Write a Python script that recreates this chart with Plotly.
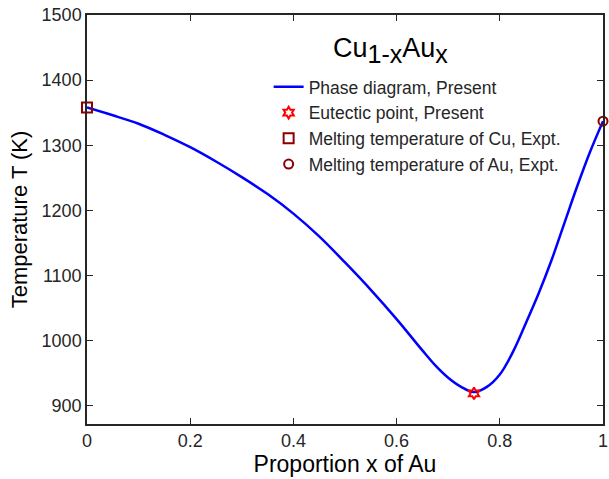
import plotly.graph_objects as go

# Phase diagram curve
x_curve = [0.0, 0.05, 0.10, 0.15, 0.20, 0.25, 0.30, 0.35, 0.40, 0.45, 0.50, 0.55,
           0.60, 0.65, 0.675, 0.70, 0.725, 0.75, 0.775, 0.80, 0.825, 0.85,
           0.875, 0.90, 0.925, 0.95, 0.975, 1.0]
t_curve = [1358, 1346, 1333, 1316, 1297, 1275, 1251, 1225, 1195, 1160, 1120, 1078,
           1033, 985, 962, 943, 929, 921, 929, 948, 982, 1026,
           1072, 1123, 1180, 1237, 1290, 1337]

eut_x = [0.75]
eut_t = [919]
cu_x = [0.0]
cu_t = [1358]
au_x = [1.0]
au_t = [1337]

x_ticks = [0, 0.2, 0.4, 0.6, 0.8, 1]
x_labels = ["0", "0.2", "0.4", "0.6", "0.8", "1"]
y_ticks = [900, 1000, 1100, 1200, 1300, 1400, 1500]

FONT = "Arial, Liberation Sans, Helvetica, sans-serif"
AX = "#262626"
DR = "#8B0000"

fig = go.Figure()
fig.add_trace(go.Scatter(x=x_curve, y=t_curve, mode="lines",
                         line=dict(color="#0000FF", width=2.5, shape="spline", smoothing=1.0),
                         name="Phase diagram, Present", cliponaxis=False))
fig.add_trace(go.Scatter(x=eut_x, y=eut_t, mode="markers",
                         marker=dict(symbol="hexagram-open", size=9, color="#FF0000", line=dict(width=2, color="#FF0000")),
                         name="Eutectic point, Present", cliponaxis=False))
fig.add_trace(go.Scatter(x=cu_x, y=cu_t, mode="markers",
                         marker=dict(symbol="square-open", size=10, color=DR, line=dict(width=2, color=DR)),
                         name="Melting temperature of Cu, Expt.", cliponaxis=False))
fig.add_trace(go.Scatter(x=au_x, y=au_t, mode="markers",
                         marker=dict(symbol="circle-open", size=9, color=DR, line=dict(width=2, color=DR)),
                         name="Melting temperature of Au, Expt.", cliponaxis=False))

fig.add_annotation(
    text="Cu<sub><span style='font-size:25px'>1-x</span></sub>Au<sub><span style='font-size:25px'>x</span></sub>",
    xref="paper", yref="paper", x=0.588, y=0.96, xanchor="center", yanchor="top",
    showarrow=False, font=dict(family=FONT, size=27, color="#000000"))

axis_common = dict(showline=True, linecolor=AX, linewidth=1.5, mirror="ticks", ticks="inside",
                   ticklen=6, tickcolor=AX, tickwidth=1.2, showgrid=False, zeroline=False,
                   ticklabeloverflow="allow",
                   tickfont=dict(family=FONT, size=18, color=AX))

fig.update_xaxes(range=[0, 1], tickvals=x_ticks, ticktext=x_labels,
                 title=dict(text="Proportion x of Au", font=dict(family=FONT, size=23, color="#000000"), standoff=6),
                 **axis_common)
fig.update_yaxes(range=[872, 1500], tickvals=y_ticks,
                 title=dict(text="Temperature T (K)", font=dict(family=FONT, size=22, color="#000000"), standoff=8),
                 **axis_common)

fig.update_layout(
    width=609, height=479,
    margin=dict(l=87, r=1, t=15, b=55),
    paper_bgcolor="white", plot_bgcolor="white",
    legend=dict(x=0.352, y=0.868, xanchor="left", yanchor="top", bgcolor="rgba(0,0,0,0)",
                font=dict(family=FONT, size=17.5, color=AX), tracegroupgap=0),
    showlegend=True,
)

fig.write_html("out.html")
